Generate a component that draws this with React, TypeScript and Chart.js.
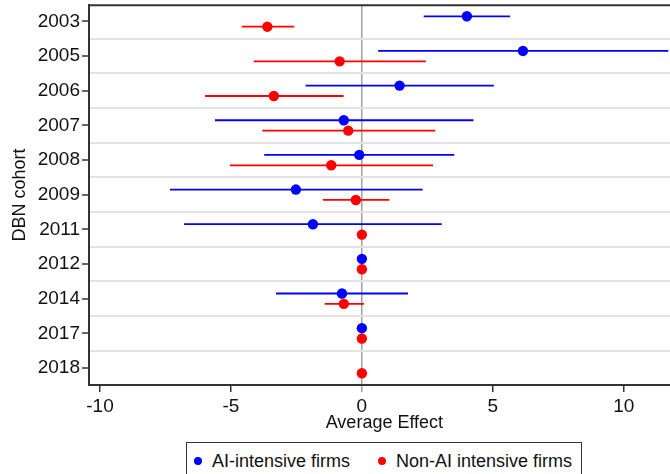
import React, { useEffect, useRef } from "react";
import Chart from "chart.js/auto";

const cohorts = ["2003", "2005", "2006", "2007", "2008", "2009", "2011", "2012", "2014", "2017", "2018"];

// AI-intensive firms (null = not estimated)
const aiEst = [4.01, 6.15, 1.44, -0.69, -0.1, -2.52, -1.87, 0, -0.76, 0, null];
const aiLo = [2.36, 0.62, -2.15, -5.61, -3.73, -7.33, -6.79, null, -3.28, null, null];
const aiHi = [5.66, 11.7, 5.04, 4.26, 3.53, 2.32, 3.05, null, 1.76, null, null];

// Non-AI intensive firms
const nonEst = [-3.61, -0.85, -3.36, -0.52, -1.17, -0.23, 0, 0, -0.69, 0, 0];
const nonLo = [-4.59, -4.13, -5.99, -3.8, -5.04, -1.49, null, null, -1.42, null, null];
const nonHi = [-2.58, 2.44, -0.7, 2.8, 2.72, 1.05, null, null, 0.08, null, null];

const xTicks = [-10, -5, 0, 5, 10];

const BLUE = "#0000ff";
const RED = "#ff0000";
const OFFSET = 0.15;
const FONT = "'Liberation Sans', Arial, sans-serif";
const TEXT = "#111111";
const CANVAS_W = 685;

function toPoints(est: (number | null)[], off: number) {
  const pts: { x: number; y: number }[] = [];
  est.forEach((v, i) => {
    if (v !== null) pts.push({ x: v, y: i + off });
  });
  return pts;
}

const ciPlugin = {
  id: "ciLines",
  beforeDatasetsDraw(chart: any) {
    const { ctx, chartArea, scales } = chart;
    const xs = scales.x;
    const ys = scales.y;
    ctx.save();
    ctx.beginPath();
    ctx.rect(chartArea.left, chartArea.top, chartArea.right - chartArea.left, chartArea.bottom - chartArea.top);
    ctx.clip();
    ctx.lineWidth = 1.8;
    const series = [
      { lo: aiLo, hi: aiHi, off: -OFFSET, color: BLUE },
      { lo: nonLo, hi: nonHi, off: OFFSET, color: RED },
    ];
    series.forEach((s) => {
      ctx.strokeStyle = s.color;
      s.lo.forEach((lo, i) => {
        const hi = s.hi[i];
        if (lo === null || hi === null) return;
        const y = ys.getPixelForValue(i + s.off);
        ctx.beginPath();
        ctx.moveTo(xs.getPixelForValue(lo), y);
        ctx.lineTo(xs.getPixelForValue(hi), y);
        ctx.stroke();
      });
    });
    ctx.restore();
  },
  afterDraw(chart: any) {
    const { ctx, chartArea } = chart;
    ctx.save();
    ctx.strokeStyle = "#333333";
    ctx.lineWidth = 2;
    ctx.beginPath();
    ctx.moveTo(chartArea.left - 1, chartArea.top);
    ctx.lineTo(chartArea.right + 2, chartArea.top);
    ctx.stroke();
    ctx.restore();
  },
};

export default function App() {
  const ref = useRef<HTMLCanvasElement | null>(null);

  useEffect(() => {
    if (!ref.current) return;
    const isInt = (v: number) => Math.abs(v - Math.round(v)) < 1e-6;
    const chart = new Chart(ref.current, {
      type: "scatter",
      data: {
        datasets: [
          {
            label: "AI-intensive firms",
            data: toPoints(aiEst, -OFFSET),
            backgroundColor: BLUE,
            borderColor: BLUE,
            borderWidth: 0,
            pointRadius: 5.2,
          },
          {
            label: "Non-AI intensive firms",
            data: toPoints(nonEst, OFFSET),
            backgroundColor: RED,
            borderColor: RED,
            borderWidth: 0,
            pointRadius: 5.2,
          },
        ],
      },
      options: {
        animation: false,
        responsive: false,
        maintainAspectRatio: false,
        layout: { padding: { top: 5, bottom: 35, left: 0, right: 0 } },
        plugins: {
          legend: { display: false },
          tooltip: { enabled: false },
        },
        scales: {
          x: {
            type: "linear",
            min: -10.42,
            max: 12.14,
            afterBuildTicks: (scale: any) => {
              scale.ticks = xTicks.map((v) => ({ value: v }));
            },
            afterFit: (scale: any) => {
              scale.height = 54;
              scale.paddingLeft = 0;
              scale.paddingRight = 0;
            },
            ticks: {
              color: TEXT,
              font: { family: FONT, size: 19 },
              padding: 3,
              maxRotation: 0,
              callback: (v: any) => String(v),
            },
            grid: {
              drawOnChartArea: true,
              color: (c: any) => (c.tick && c.tick.value === 0 ? "#a0a0a0" : "rgba(0,0,0,0)"),
              lineWidth: 1.5,
              tickColor: (c: any) => (c.tick && c.tick.value === 0 ? "#a0a0a0" : "#333333"),
              tickLength: 7,
              tickWidth: 1.5,
            },
            border: { display: true, color: "#333333", width: 2 },
            title: {
              display: true,
              text: "Average Effect",
              color: TEXT,
              font: { family: FONT, size: 18 },
              padding: { top: 0, bottom: 5 },
            },
          },
          y: {
            type: "linear",
            reverse: true,
            min: -0.47,
            max: cohorts.length - 1 + 0.49,
            afterBuildTicks: (scale: any) => {
              const t: { value: number }[] = [];
              for (let i = 0; i < cohorts.length; i++) {
                t.push({ value: i });
                if (i < cohorts.length - 1) t.push({ value: i + 0.5 });
              }
              scale.ticks = t;
            },
            afterFit: (scale: any) => {
              scale.width = 89;
              scale.paddingTop = 0;
              scale.paddingBottom = 0;
            },
            ticks: {
              color: TEXT,
              font: { family: FONT, size: 19 },
              padding: 2,
              autoSkip: false,
              callback: (v: any) => (isInt(v) ? cohorts[Math.round(v)] : ""),
            },
            grid: {
              color: (c: any) => (c.tick && !isInt(c.tick.value) ? "#e2e2e2" : "rgba(0,0,0,0)"),
              lineWidth: 2,
              tickColor: (c: any) => (c.tick && isInt(c.tick.value) ? "#333333" : "rgba(0,0,0,0)"),
              tickLength: 7,
              tickWidth: 1.5,
            },
            border: { display: true, color: "#333333", width: 2 },
            title: {
              display: true,
              text: "DBN cohort",
              color: TEXT,
              font: { family: FONT, size: 18 },
              padding: { top: 9, bottom: 0 },
            },
          },
        },
      },
      plugins: [ciPlugin],
    } as any);
    return () => chart.destroy();
  }, []);

  const legendItem = (color: string, text: string, left: number) => (
    <div
      style={{
        position: "absolute",
        left,
        top: 7,
        display: "flex",
        alignItems: "center",
        whiteSpace: "nowrap",
      }}
    >
      <span
        style={{
          display: "inline-block",
          width: 8,
          height: 8,
          borderRadius: "50%",
          background: color,
          marginRight: 10,
        }}
      />
      <span style={{ fontFamily: FONT, fontSize: 18, color: TEXT, lineHeight: "22px" }}>{text}</span>
    </div>
  );

  return (
    <div style={{ position: "fixed", left: 0, top: 0, width: 670, height: 474, background: "#fff", overflow: "hidden" }}>
      <canvas ref={ref} width={CANVAS_W} height={474} style={{ width: CANVAS_W, height: 474, display: "block" }} />
      <div
        style={{
          position: "absolute",
          left: 186,
          top: 442,
          width: 396,
          height: 50,
          border: "1px solid #333",
          boxSizing: "border-box",
          background: "#fff",
        }}
      >
        {legendItem(BLUE, "AI-intensive firms", 7)}
        {legendItem(RED, "Non-AI intensive firms", 191)}
      </div>
    </div>
  );
}
